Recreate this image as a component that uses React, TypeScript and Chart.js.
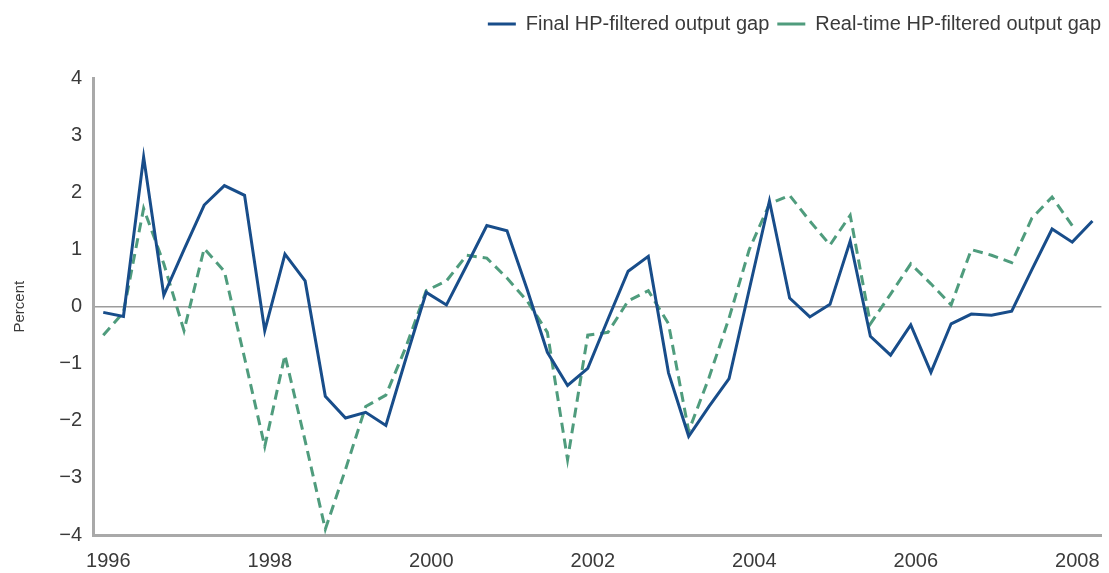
import React, { useEffect, useRef } from 'react';
import { Chart, registerables } from 'chart.js';

Chart.register(...registerables);

// Quarterly observations, 1996 Q1 .. 2008 Q2
const startYear = 1996;
const finalGap = [
  -0.10, -0.17, 2.62, 0.20,
  1.00, 1.78, 2.12, 1.95,
  -0.42, 0.92, 0.45, -1.57,
  -1.95, -1.85, -2.08, -0.90,
  0.25, 0.03, 0.72, 1.42,
  1.33, 0.30, -0.80, -1.38,
  -1.08, -0.22, 0.62, 0.88,
  -1.16, -2.27, -1.75, -1.26,
  0.30, 1.85, 0.15, -0.18,
  0.04, 1.15, -0.52, -0.85,
  -0.32, -1.15, -0.30, -0.13,
  -0.15, -0.08, 0.65, 1.36,
  1.13, 1.50,
];
const realtimeGap: (number | null)[] = [
  -0.50, -0.10, 1.72, 0.75,
  -0.42, 1.02, 0.62, -0.90,
  -2.45, -0.85, -2.35, -3.90,
  -2.85, -1.75, -1.55, -0.70,
  0.28, 0.45, 0.90, 0.85,
  0.50, 0.10, -0.45, -2.68,
  -0.50, -0.45, 0.10, 0.28,
  -0.30, -2.18, -1.25, -0.20,
  1.00, 1.80, 1.95, 1.50,
  1.08, 1.60, -0.30, 0.22,
  0.75, 0.40, 0.03, 1.00,
  0.90, 0.77, 1.55, 1.92,
  1.42, null,
];
const seriesLabels = ['Final HP-filtered output gap', 'Real-time HP-filtered output gap'];
const yearTicks = [1996, 1998, 2000, 2002, 2004, 2006, 2008];
const yTickValues = [-4, -3, -2, -1, 0, 1, 2, 3, 4];

const BLUE = '#184d8a';
const GREEN = '#4f9c7d';
const AXIS = '#a9a9a9';
const ZERO = '#9c9c9c';
const TEXT = '#3a3a3a';
const FAMILY = "'Liberation Sans', Arial, sans-serif";

const toPoints = (vals: (number | null)[]) =>
  vals.map((v, i) => ({ x: startYear + i / 4, y: v }));

export default function App() {
  const ref = useRef<HTMLCanvasElement | null>(null);

  useEffect(() => {
    const canvas = ref.current;
    if (!canvas) return;
    const legendSpacer = {
      id: 'legendSpacer',
      beforeInit(chart: any) {
        const legend = chart.legend;
        if (!legend) return;
        const orig = legend.fit;
        legend.fit = function () {
          orig.call(this);
          this.height += 34.3;
        };
      },
    };
    const chart = new Chart(canvas, {
      type: 'line',
      data: {
        datasets: [
          {
            label: seriesLabels[0],
            data: toPoints(finalGap),
            borderColor: BLUE,
            backgroundColor: BLUE,
            borderWidth: 3,
            pointRadius: 0,
            tension: 0,
            fill: false,
          },
          {
            label: seriesLabels[1],
            data: toPoints(realtimeGap),
            borderColor: GREEN,
            backgroundColor: GREEN,
            borderWidth: 3,
            borderDash: [10, 6],
            pointRadius: 0,
            tension: 0,
            fill: false,
            spanGaps: false,
          },
        ],
      } as any,
      options: {
        animation: false,
        responsive: false,
        events: [],
        layout: { padding: { top: 6, left: 0, right: 0, bottom: 0 } },
        plugins: {
          tooltip: { enabled: false },
          legend: {
            position: 'top',
            align: 'end',
            labels: {
              boxWidth: 28,
              boxHeight: 3,
              padding: 8,
              color: TEXT,
              font: { family: FAMILY, size: 20 },
              generateLabels: (ch: any) =>
                ch.data.datasets.map((ds: any, i: number) => ({
                  text: ds.label,
                  fillStyle: ds.borderColor,
                  strokeStyle: ds.borderColor,
                  lineWidth: 0,
                  hidden: false,
                  datasetIndex: i,
                  fontColor: TEXT,
                })),
            },
          },
        },
        scales: {
          x: {
            type: 'linear',
            min: 1995.873,
            max: 2008.361,
            afterBuildTicks: (s: any) => {
              s.ticks = yearTicks.map((v) => ({ value: v }));
            },
            afterFit: (s: any) => {
              s.height = 38;
            },
            grid: { display: false, drawTicks: false },
            border: { display: true, color: AXIS, width: 3 },
            ticks: {
              autoSkip: false,
              maxRotation: 0,
              padding: 14.5,
              labelOffset: 5,
              color: TEXT,
              font: { family: FAMILY, size: 20 },
              callback: (v: any) => String(v),
            },
          },
          y: {
            type: 'linear',
            min: -4,
            max: 4,
            afterBuildTicks: (s: any) => {
              s.ticks = yTickValues.map((v) => ({ value: v }));
            },
            afterFit: (s: any) => {
              s.width = 93;
            },
            grid: {
              drawTicks: false,
              lineWidth: 1.5,
              color: (ctx: any) =>
                ctx.tick && ctx.tick.value === 0 ? ZERO : 'rgba(0,0,0,0)',
            },
            border: { display: true, color: AXIS, width: 3 },
            ticks: {
              padding: 11,
              color: TEXT,
              font: { family: FAMILY, size: 20 },
              callback: (v: any) => (v < 0 ? '\u2212' + Math.abs(v) : String(v)),
            },
            title: {
              display: true,
              text: 'Percent',
              color: TEXT,
              font: { family: FAMILY, size: 15 },
              padding: { top: 11, bottom: 0 },
            },
          },
        },
      } as any,
      plugins: [legendSpacer as any],
    });
    return () => chart.destroy();
  }, []);

  return (
    <div style={{ position: 'absolute', left: 0, top: 0, width: 1109, height: 573, background: '#fff' }}>
      <canvas ref={ref} width={1109} height={573} style={{ display: 'block' }} />
    </div>
  );
}
